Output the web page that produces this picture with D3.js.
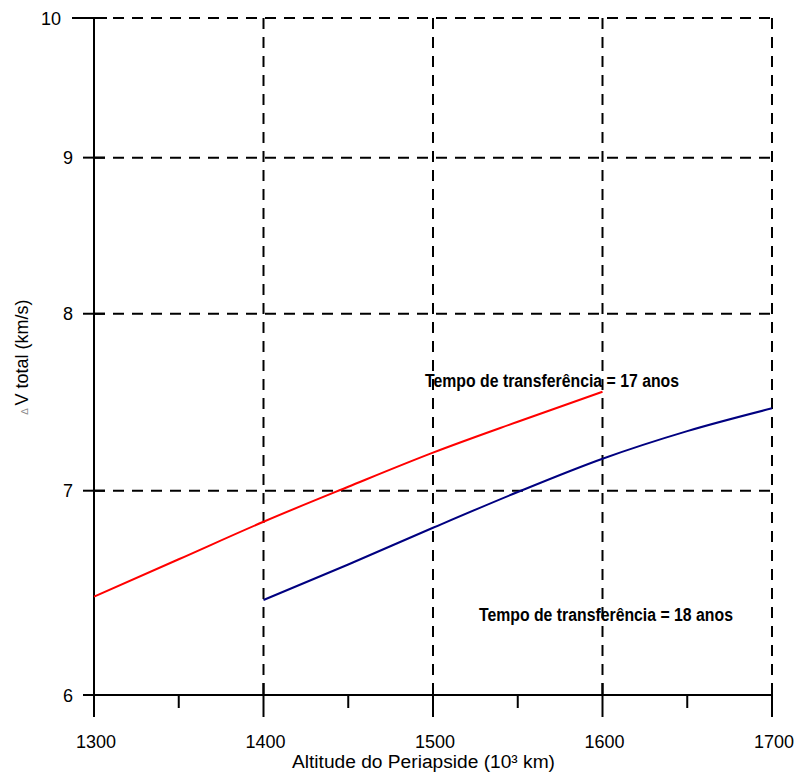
<!DOCTYPE html>
<html>
<head>
<meta charset="utf-8">
<script src="https://cdn.jsdelivr.net/npm/d3@7"></script>
<style>
  html, body { margin: 0; padding: 0; background: #fff; }
  svg { display: block; }
  text { font-family: Arial, "Liberation Sans", sans-serif; }
</style>
</head>
<body>
<svg id="chart" width="796" height="773"></svg>
<script>
// ---- data ----
const altitude17 = [1300, 1350, 1400, 1450, 1500, 1550, 1600];
const deltaV17   = [6.462, 6.647, 6.838, 7.021, 7.204, 7.374, 7.543];
const altitude18 = [1400, 1450, 1500, 1550, 1600, 1650, 1700];
const deltaV18   = [6.446, 6.621, 6.807, 6.993, 7.171, 7.322, 7.449];
const xMajorTicks = [1300, 1400, 1500, 1600, 1700];
const xMinorTicks = [1350, 1450, 1550, 1650];
const yTicks = [6, 7, 8, 9, 10];
const label17 = "Tempo de transferência = 17 anos";
const label18 = "Tempo de transferência = 18 anos";
const xTitle = "Altitude do Periapside (10³ km)";
const yTitle = "V total (km/s)";

// ---- layout ----
const svg = d3.select("#chart");
const x = d3.scaleLinear().domain([1300, 1700]).range([94, 772]);
const y = d3.scaleLog().domain([6, 10]).range([695, 18]);
const dash = "11,8";

// gridlines
svg.append("g").selectAll("line").data(xMajorTicks.slice(1)).join("line")
  .attr("x1", d => x(d)).attr("x2", d => x(d))
  .attr("y1", y(10)).attr("y2", y(6))
  .attr("stroke", "#000").attr("stroke-width", 2).attr("stroke-dasharray", dash);
svg.append("g").selectAll("line").data(yTicks.slice(1)).join("line")
  .attr("x1", x(1300)).attr("x2", x(1700))
  .attr("y1", d => y(d)).attr("y2", d => y(d))
  .attr("stroke", "#000").attr("stroke-width", 2).attr("stroke-dasharray", dash);

// axes lines
svg.append("line").attr("x1", x(1300)).attr("x2", x(1300)).attr("y1", y(10)).attr("y2", y(6))
  .attr("stroke", "#000").attr("stroke-width", 2);
svg.append("line").attr("x1", x(1300)).attr("x2", x(1700)).attr("y1", y(6)).attr("y2", y(6))
  .attr("stroke", "#000").attr("stroke-width", 2);

// x ticks
svg.append("g").selectAll("line").data(xMajorTicks).join("line")
  .attr("x1", d => x(d)).attr("x2", d => x(d))
  .attr("y1", y(6) - 12).attr("y2", y(6) + 22)
  .attr("stroke", "#000").attr("stroke-width", 2);
svg.append("g").selectAll("line").data(xMinorTicks).join("line")
  .attr("x1", d => x(d)).attr("x2", d => x(d))
  .attr("y1", y(6)).attr("y2", y(6) + 13)
  .attr("stroke", "#000").attr("stroke-width", 2);
svg.append("g").selectAll("text").data(xMajorTicks).join("text")
  .attr("x", d => x(d) + 2).attr("y", 748)
  .attr("text-anchor", "middle").attr("font-size", 18).text(d => d);

// y ticks
svg.append("g").selectAll("line").data(yTicks).join("line")
  .attr("x1", d => d === 10 ? x(1300) - 22 : x(1300) - 11)
  .attr("x2", d => d === 10 ? x(1300) + 13 : x(1300) + 11)
  .attr("y1", d => y(d)).attr("y2", d => y(d))
  .attr("stroke", "#000").attr("stroke-width", 2);
svg.append("g").selectAll("text").data(yTicks).join("text")
  .attr("x", d => d === 10 ? x(1300) - 33 : x(1300) - 21)
  .attr("y", d => y(d) + 6.5)
  .attr("text-anchor", "end").attr("font-size", 18).text(d => d);

// series
const line = d3.line().curve(d3.curveMonotoneX).x(d => x(d[0])).y(d => y(d[1]));
svg.append("path").datum(d3.zip(altitude17, deltaV17))
  .attr("d", line).attr("fill", "none").attr("stroke", "#ff0000").attr("stroke-width", 2);
svg.append("path").datum(d3.zip(altitude18, deltaV18))
  .attr("d", line).attr("fill", "none").attr("stroke", "#000080").attr("stroke-width", 2);

// annotations
svg.append("text").attr("x", x(1495.3)).attr("y", y(7.571))
  .attr("font-size", 18).attr("font-weight", "bold")
  .attr("textLength", 254).attr("lengthAdjust", "spacingAndGlyphs").text(label17);
svg.append("text").attr("x", x(1527.1)).attr("y", y(6.344))
  .attr("font-size", 18).attr("font-weight", "bold")
  .attr("textLength", 254).attr("lengthAdjust", "spacingAndGlyphs").text(label18);

// axis titles
svg.append("text").attr("x", 292).attr("y", 768).attr("font-size", 18)
  .attr("textLength", 263).attr("lengthAdjust", "spacingAndGlyphs").text(xTitle);
const yt = svg.append("text").attr("transform", "translate(28,357) rotate(-90)")
  .attr("text-anchor", "middle").attr("font-size", 18);
yt.append("tspan").attr("font-size", 10).attr("fill", "#888").text("∆ ");
yt.append("tspan").text(yTitle);
</script>
</body>
</html>
